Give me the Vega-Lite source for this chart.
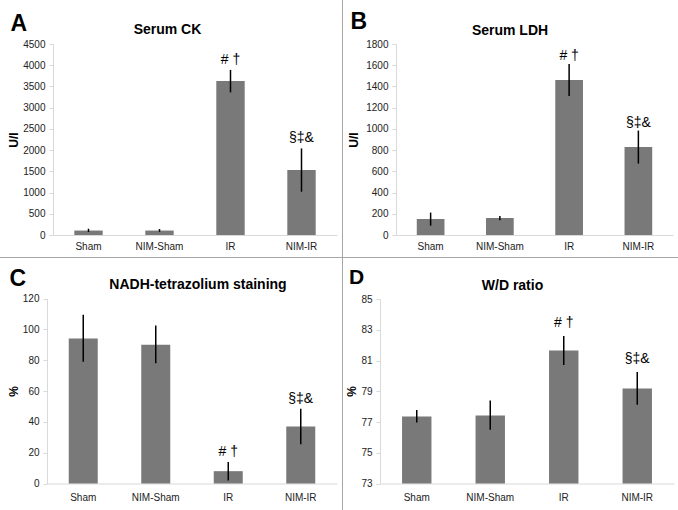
{
  "$schema": "https://vega.github.io/schema/vega-lite/v6.json",
  "padding": 0,
  "background": "white",
  "spacing": 0,
  "bounds": "flush",
  "align": "each",
  "columns": 3,
  "datasets": {
    "ck": [
      {"group": "Sham", "value": 105, "lo": 70, "hi": 148, "label": ""},
      {"group": "NIM-Sham", "value": 105, "lo": 75, "hi": 140, "label": ""},
      {"group": "IR", "value": 3630, "lo": 3360, "hi": 3890, "label": "# †"},
      {"group": "NIM-IR", "value": 1530, "lo": 1020, "hi": 2040, "label": "§‡&"}
    ],
    "ldh": [
      {"group": "Sham", "value": 150, "lo": 88, "hi": 211, "label": ""},
      {"group": "NIM-Sham", "value": 160, "lo": 139, "hi": 180, "label": ""},
      {"group": "IR", "value": 1460, "lo": 1311, "hi": 1611, "label": "# †"},
      {"group": "NIM-IR", "value": 830, "lo": 673, "hi": 984, "label": "§‡&"}
    ],
    "nadh": [
      {"group": "Sham", "value": 94, "lo": 79, "hi": 109.5, "label": ""},
      {"group": "NIM-Sham", "value": 90, "lo": 78, "hi": 102.5, "label": ""},
      {"group": "IR", "value": 8, "lo": 2, "hi": 14, "label": "# †"},
      {"group": "NIM-IR", "value": 37, "lo": 25.5, "hi": 48.5, "label": "§‡&"}
    ],
    "wd": [
      {"group": "Sham", "value": 77.35, "lo": 76.97, "hi": 77.78, "label": ""},
      {"group": "NIM-Sham", "value": 77.43, "lo": 76.5, "hi": 78.4, "label": ""},
      {"group": "IR", "value": 81.65, "lo": 80.7, "hi": 82.6, "label": "# †"},
      {"group": "NIM-IR", "value": 79.18, "lo": 78.12, "hi": 80.25, "label": "§‡&"}
    ]
  },
  "concat": [
    {
      "width": 342,
      "height": 257,
      "data": {"name": "ck"},
      "title": {"text": "Serum CK", "anchor": "middle", "frame": "group", "dx": -3.5, "offset": -48, "baseline": "alphabetic"},
      "layer": [
        {
          "mark": {"type": "bar", "color": "#797979"},
          "encoding": {
            "x": {"field": "group", "type": "nominal", "sort": null,
              "scale": {"range": [53, 337], "paddingInner": 0.6, "paddingOuter": 0.3},
              "axis": {"orient": "bottom", "offset": -22, "title": null, "ticks": false, "labelPadding": 6, "labelAngle": 0}},
            "y": {"field": "value", "type": "quantitative",
              "scale": {"domain": [0, 4500], "range": [235, 44], "nice": false},
              "axis": {"offset": -53, "format": "d", "values": [0, 500, 1000, 1500, 2000, 2500, 3000, 3500, 4000, 4500], "title": "U/l", "titleX": -40, "titleY": 139.5, "titleAngle": 270, "titleAlign": "center", "titleBaseline": "middle"}}
          }
        },
        {
          "mark": {"type": "rule", "color": "black", "strokeWidth": 1.5},
          "encoding": {
            "x": {"field": "group", "type": "nominal", "sort": null,
              "axis": {"orient": "top", "title": "A", "labels": false, "ticks": false, "domain": false, "titleX": 10, "titleY": 30, "titleAlign": "left", "titleBaseline": "alphabetic", "titleAngle": 0, "titleFontSize": 23}},
            "y": {"field": "lo", "type": "quantitative", "axis": null},
            "y2": {"field": "hi"}
          }
        },
        {
          "mark": {"type": "text", "baseline": "alphabetic", "dy": -6, "fontSize": 14, "color": "black"},
          "encoding": {
            "x": {"field": "group", "type": "nominal", "sort": null, "axis": null},
            "y": {"field": "hi", "type": "quantitative", "axis": null},
            "text": {"field": "label"}
          }
        }
      ],
      "resolve": {"axis": {"x": "independent", "y": "independent"}}
    },
    {
      "width": 1,
      "height": 257,
      "data": {"values": []},
      "mark": "rect",
      "view": {"fill": "#a6a6a6", "stroke": null}
    },
    {
      "width": 335,
      "height": 257,
      "data": {"name": "ldh"},
      "title": {"text": "Serum LDH", "anchor": "middle", "frame": "group", "dx": -0.5, "offset": -49, "baseline": "alphabetic"},
      "layer": [
        {
          "mark": {"type": "bar", "color": "#797979"},
          "encoding": {
            "x": {"field": "group", "type": "nominal", "sort": null,
              "scale": {"range": [53, 330], "paddingInner": 0.6, "paddingOuter": 0.3},
              "axis": {"orient": "bottom", "offset": -22, "title": null, "ticks": false, "labelPadding": 6, "labelAngle": 0}},
            "y": {"field": "value", "type": "quantitative",
              "scale": {"domain": [0, 1800], "range": [235, 44], "nice": false},
              "axis": {"offset": -53, "format": "d", "values": [0, 200, 400, 600, 800, 1000, 1200, 1400, 1600, 1800], "title": "U/l", "titleX": -43, "titleY": 139.5, "titleAngle": 270, "titleAlign": "center", "titleBaseline": "middle"}}
          }
        },
        {
          "mark": {"type": "rule", "color": "black", "strokeWidth": 1.5},
          "encoding": {
            "x": {"field": "group", "type": "nominal", "sort": null,
              "axis": {"orient": "top", "title": "B", "labels": false, "ticks": false, "domain": false, "titleX": 7, "titleY": 28.5, "titleAlign": "left", "titleBaseline": "alphabetic", "titleAngle": 0, "titleFontSize": 23}},
            "y": {"field": "lo", "type": "quantitative", "axis": null},
            "y2": {"field": "hi"}
          }
        },
        {
          "mark": {"type": "text", "baseline": "alphabetic", "dy": -4, "fontSize": 14, "color": "black"},
          "encoding": {
            "x": {"field": "group", "type": "nominal", "sort": null, "axis": null},
            "y": {"field": "hi", "type": "quantitative", "axis": null},
            "text": {"field": "label"}
          }
        }
      ],
      "resolve": {"axis": {"x": "independent", "y": "independent"}}
    },
    {
      "width": 342,
      "height": 1,
      "data": {"values": []},
      "mark": "rect",
      "view": {"fill": "#a6a6a6", "stroke": null}
    },
    {
      "width": 1,
      "height": 1,
      "data": {"values": []},
      "mark": "rect",
      "view": {"fill": "#a6a6a6", "stroke": null}
    },
    {
      "width": 335,
      "height": 1,
      "data": {"values": []},
      "mark": "rect",
      "view": {"fill": "#a6a6a6", "stroke": null}
    },
    {
      "width": 342,
      "height": 252,
      "data": {"name": "nadh"},
      "title": {"text": "NADH-tetrazolium staining", "anchor": "middle", "frame": "group", "dx": 27, "offset": -45, "baseline": "alphabetic"},
      "layer": [
        {
          "mark": {"type": "bar", "color": "#797979"},
          "encoding": {
            "x": {"field": "group", "type": "nominal", "sort": null,
              "scale": {"range": [47, 337], "paddingInner": 0.6, "paddingOuter": 0.3},
              "axis": {"orient": "bottom", "offset": -26.5, "title": null, "ticks": false, "labelPadding": 9, "labelAngle": 0}},
            "y": {"field": "value", "type": "quantitative",
              "scale": {"domain": [0, 120], "range": [225.5, 40.5], "nice": false},
              "axis": {"offset": -47, "format": "d", "values": [0, 20, 40, 60, 80, 100, 120], "title": "%", "titleX": -34, "titleY": 133, "titleAngle": 270, "titleAlign": "center", "titleBaseline": "middle"}}
          }
        },
        {
          "mark": {"type": "rule", "color": "black", "strokeWidth": 1.5},
          "encoding": {
            "x": {"field": "group", "type": "nominal", "sort": null,
              "axis": {"orient": "top", "title": "C", "labels": false, "ticks": false, "domain": false, "titleX": 9, "titleY": 27, "titleAlign": "left", "titleBaseline": "alphabetic", "titleAngle": 0, "titleFontSize": 23}},
            "y": {"field": "lo", "type": "quantitative", "axis": null},
            "y2": {"field": "hi"}
          }
        },
        {
          "mark": {"type": "text", "baseline": "alphabetic", "dy": -6, "fontSize": 14, "color": "black"},
          "encoding": {
            "x": {"field": "group", "type": "nominal", "sort": null, "axis": null},
            "y": {"field": "hi", "type": "quantitative", "axis": null},
            "text": {"field": "label"}
          }
        }
      ],
      "resolve": {"axis": {"x": "independent", "y": "independent"}}
    },
    {
      "width": 1,
      "height": 252,
      "data": {"values": []},
      "mark": "rect",
      "view": {"fill": "#a6a6a6", "stroke": null}
    },
    {
      "width": 335,
      "height": 252,
      "data": {"name": "wd"},
      "title": {"text": "W/D ratio", "anchor": "middle", "frame": "group", "dx": 2, "offset": -46, "baseline": "alphabetic"},
      "layer": [
        {
          "mark": {"type": "bar", "color": "#797979"},
          "encoding": {
            "x": {"field": "group", "type": "nominal", "sort": null,
              "scale": {"range": [37, 331], "paddingInner": 0.6, "paddingOuter": 0.3},
              "axis": {"orient": "bottom", "offset": -26.5, "title": null, "ticks": false, "labelPadding": 9, "labelAngle": 0}},
            "y": {"field": "value", "type": "quantitative",
              "scale": {"domain": [73, 85], "range": [225.5, 41], "nice": false, "zero": false},
              "axis": {"offset": -37, "format": "d", "values": [73, 75, 77, 79, 81, 83, 85], "title": "%", "titleX": -29, "titleY": 133, "titleAngle": 270, "titleAlign": "center", "titleBaseline": "middle"}},
            "y2": {"datum": 73}
          }
        },
        {
          "mark": {"type": "rule", "color": "black", "strokeWidth": 1.5},
          "encoding": {
            "x": {"field": "group", "type": "nominal", "sort": null,
              "axis": {"orient": "top", "title": "D", "labels": false, "ticks": false, "domain": false, "titleX": 5.5, "titleY": 25.5, "titleAlign": "left", "titleBaseline": "alphabetic", "titleAngle": 0, "titleFontSize": 21}},
            "y": {"field": "lo", "type": "quantitative", "axis": null},
            "y2": {"field": "hi"}
          }
        },
        {
          "mark": {"type": "text", "baseline": "alphabetic", "dy": -9, "fontSize": 14, "color": "black"},
          "encoding": {
            "x": {"field": "group", "type": "nominal", "sort": null, "axis": null},
            "y": {"field": "hi", "type": "quantitative", "axis": null},
            "text": {"field": "label"}
          }
        }
      ],
      "resolve": {"axis": {"x": "independent", "y": "independent"}}
    }
  ],
  "config": {
    "font": "Liberation Sans",
    "view": {"stroke": null},
    "title": {"font": "Liberation Sans", "fontSize": 14, "fontWeight": "bold", "color": "black"},
    "axis": {
      "labelFont": "Liberation Sans",
      "labelFontSize": 10,
      "labelColor": "#222222",
      "domainColor": "#d9d9d9",
      "tickColor": "#d9d9d9",
      "tickSize": 4,
      "labelPadding": 4,
      "grid": false,
      "titleFont": "Liberation Sans",
      "titleFontWeight": "bold",
      "titleColor": "black",
      "titleFontSize": 12
    }
  }
}
